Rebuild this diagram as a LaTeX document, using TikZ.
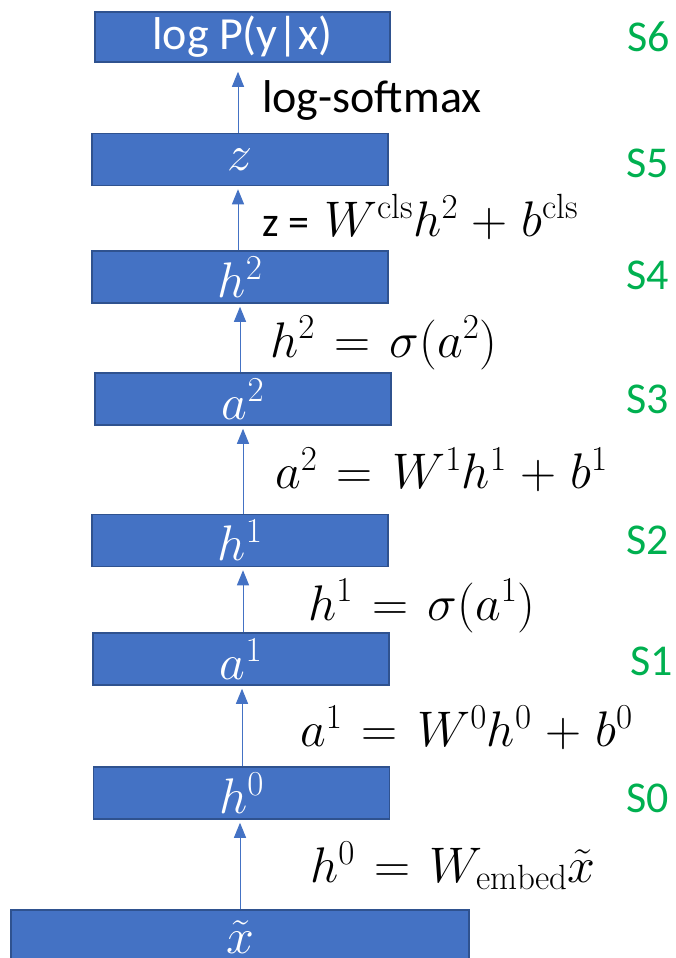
\RequirePackage{fix-cm}
\documentclass[tikz,border=0pt]{standalone}
\usepackage{fontspec}
\newfontfamily\calibri{Carlito}
\usetikzlibrary{arrows.meta}
\definecolor{boxfill}{HTML}{4472C4}
\definecolor{boxline}{HTML}{2F528F}
\definecolor{stage}{HTML}{00B050}
\newcommand{\mathbig}{\fontsize{50}{54}\selectfont\thickmuskip=7mu plus 2mu\medmuskip=5mu plus 2mu}
\tikzset{
  layer/.style={draw=boxline, fill=boxfill, line width=1.5pt, minimum width=296pt, minimum height=52pt, inner sep=0pt, text=white, font=\mathbig},
  flow/.style={draw=boxfill, line width=1pt, -{Triangle[width=12pt,length=15pt]}, shorten >=3pt},
  eq/.style={anchor=west, inner sep=0pt, font=\mathbig},
  txt/.style={anchor=west, inner sep=0pt, font=\calibri\fontsize{46}{50}\selectfont},
  stagelbl/.style={anchor=west, inner sep=0pt, text=stage, font=\calibri\fontsize{44}{48}\selectfont}
}
\begin{document}
\begin{tikzpicture}[x=1pt,y=-1pt]
\useasboundingbox (0,0) rectangle (676,958);
% layers
\node[layer, minimum width=295pt, minimum height=50pt, font=\calibri\fontsize{46}{50}\selectfont] (logp) at (242.5,37) {log P(y|x)};
\node[layer] (z) at (240,159.5) {$z$};
\node[layer] (h2) at (240,277) {$h^2$};
\node[layer] (a2) at (243,399) {$a^2$};
\node[layer] (h1) at (240,540.5) {$h^1$};
\node[layer] (a1) at (241,659) {$a^1$};
\node[layer] (h0) at (241.5,793) {$h^0$};
\node[layer, minimum width=458pt, minimum height=54pt] (xt) at (240,937) {$\tilde{x}$};
% connectors
\draw[flow, shorten >=9pt] (z.north -| 238,0) -- (logp.south -| 238,0);
\draw[flow] (h2.north -| 238,0) -- (z.south -| 238,0);
\draw[flow] (a2.north -| 240,0) -- (h2.south -| 240,0);
\draw[flow] (h1.north -| 243,0) -- (a2.south -| 243,0);
\draw[flow] (a1.north -| 243,0) -- (h1.south -| 243,0);
\draw[flow] (h0.north -| 242,0) -- (a1.south -| 242,0);
\draw[flow] (xt.north -| 240,0) -- (h0.south -| 240,0);
% equations
\node[txt] (lsm) at (262,100) {log-softmax};
\node[eq] (eqz) at (262,217) {{\calibri\fontsize{42}{46}\selectfont z =} $W^{\mathrm{cls}}h^2+b^{\mathrm{cls}}$};
\node[eq] (eqh2) at (270,343) {$h^2=\sigma(a^2)$};
\node[eq] (eqa2) at (275,470) {$a^2=W^1h^1+b^1$};
\node[eq] (eqh1) at (308,606) {$h^1=\sigma(a^1)$};
\node[eq] (eqa1) at (300,728) {$a^1=W^0h^0+b^0$};
\node[eq] (eqh0) at (310,866) {$h^0=W_{\mathrm{embed}}\tilde{x}$};
% stage labels
\node[stagelbl] (s6) at (627,37) {S6};
\node[stagelbl] (s5) at (626,163) {S5};
\node[stagelbl] (s4) at (626,275) {S4};
\node[stagelbl] (s3) at (626,399) {S3};
\node[stagelbl] (s2) at (626,540) {S2};
\node[stagelbl] (s1) at (630,661) {S1};
\node[stagelbl] (s0) at (626,798) {S0};
\end{tikzpicture}
\end{document}
